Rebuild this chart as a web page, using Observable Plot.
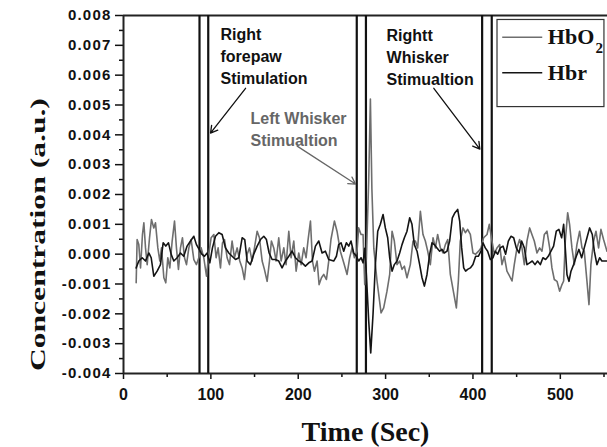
<!DOCTYPE html>
<html><head><meta charset="utf-8">
<script src="https://cdn.jsdelivr.net/npm/d3@7"></script>
<script src="https://cdn.jsdelivr.net/npm/@observablehq/plot@0.6"></script>
<style>html,body{margin:0;padding:0;background:#fff}</style>
</head><body><div id="chart"></div>
<script>
// Values in units of 10^-3 a.u.; time in seconds
const hbo2Time = [14.5,15.6,17.5,19.5,21.7,23.3,25.2,27.1,29.8,32.0,34.7,36.6,39.3,41.6,43.5,46.2,48.4,50.7,53.0,55.7,58.4,60.6,62.9,65.2,67.5,69.8,72.1,74.8,77.4,80.5,83.5,86.2,88.9,91.9,95.0,97.6,100.3,103.4,106.0,108.3,111.0,113.3,115.6,118.6,121.3,124.3,127.0,130.1,133.1,135.8,138.4,141.5,144.2,147.2,149.9,153.0,155.6,158.7,161.3,164.4,167.1,169.3,172.0,174.7,177.7,180.4,183.5,186.1,189.2,191.8,194.9,197.6,200.6,203.3,206.3,209.0,211.3,214.0,216.3,218.5,221.6,223.9,226.6,229.2,232.3,234.9,237.5,241.4,244.4,248.2,252.1,255.9,258.9,261.6,264.3,267.3,269.2,271.9,274.2,276.1,278.0,280.7,282.6,284.3,286.5,290.2,294.8,297.8,301.6,304.7,307.4,310.0,313.1,316.1,318.8,321.5,324.5,328.3,331.4,334.1,336.7,339.8,342.8,345.5,348.2,351.2,354.3,357.0,359.6,362.7,365.7,368.4,371.1,374.1,377.9,381.0,383.3,385.5,388.6,391.3,393.9,397.0,400.0,403.1,406.5,409.2,412.2,416.1,418.7,421.8,424.4,427.5,430.6,433.2,435.9,438.9,442.0,444.7,447.3,450.4,453.4,456.1,458.8,461.8,464.9,467.5,470.2,473.3,476.3,479.0,481.7,484.7,487.8,490.4,493.1,496.2,499.2,501.9,503.8,505.7,508.4,510.6,513.3,516.0,519.0,522.1,524.8,527.4,530.5,532.8,535.0,538.1,540.8,543.8,546.5,549.5,553.4];
const hbo2Value = [-0.96,0.49,0.32,-0.46,0.66,1.05,0.21,-0.35,0.55,1.16,0.88,1.05,0.21,-0.23,0.21,-0.79,-0.96,-0.12,-0.46,0.44,1.11,0.21,-0.51,0.21,0.55,-0.12,-0.35,0.21,0.49,-0.18,-0.35,-0.12,0.21,-0.12,-0.74,0,0.55,0.66,-0.12,0.21,-0.46,0.38,0.49,-0.12,-0.35,0.44,-0.12,0.21,-0.23,-0.46,-0.85,0,0.21,-0.23,0.21,0.77,0.55,-0.23,-0.51,-0.91,-0.23,0.44,0.21,-0.23,0.55,-0.23,0.21,-0.35,0.77,-0.12,0.44,-0.57,0.04,-0.35,0.21,-0.12,0.49,1.11,-0.23,-0.57,-0.23,-1.02,-0.79,-0.68,-0.85,-0.23,0.5,1.11,0.77,0.1,-0.29,-0.68,-0.12,0.21,-0.12,0.1,0.88,0.66,0.66,-1.02,-0.12,2.5,5.2,2.2,0.2,-0.9,-1.97,-1.8,-1.24,-0.68,0.77,0.44,-0.35,-0.23,-0.51,-0.4,-0.79,-0.35,0.44,0.44,0.21,1.44,0.66,0.44,0.1,-0.35,0.55,0.21,0.66,0.21,0.04,0.32,0.49,-0.68,-1.3,-1.8,-0.9,0.44,0.88,0.72,0.83,0.66,0.04,0,0.1,0.21,0.55,0.66,1.0,0.44,0,0.21,0.32,-0.35,-0.07,-0.57,-0.74,-0.9,-0.35,0.21,0.49,0.21,-0.35,0.44,0.88,0.66,0.44,0.04,0.21,0.1,0.66,0.77,0.21,-0.46,-0.85,-0.91,-1.24,-1.02,-0.9,0.44,1.39,1.0,0.21,-0.35,0.32,0.77,0.21,0.1,-0.91,-1.69,-0.35,0.44,0.77,0.21,0.83,0.49,0.1];
const hbrTime = [14.5,17.5,21.4,25.2,29.0,31.7,34.7,38.5,42.3,45.4,48.4,51.5,54.5,57.6,61.4,65.2,69.0,72.8,76.7,80.5,83.5,86.6,89.6,92.7,95.7,98.8,101.8,105.3,109.1,112.9,116.7,120.5,124.3,128.2,132.0,135.8,138.8,141.5,145.3,149.1,153.0,156.8,160.6,163.6,166.7,170.1,173.9,177.7,181.5,185.4,189.2,193.0,196.8,200.6,204.4,208.2,212.1,215.9,219.7,223.5,227.3,231.1,234.9,240.6,243.7,246.3,249.0,252.1,255.1,257.8,260.4,263.5,266.6,269.2,271.9,274.2,276.1,278.0,280.7,283.0,285.6,288.3,291.0,294.0,297.1,299.7,302.4,304.7,307.4,310.0,313.1,316.1,318.8,321.5,324.5,327.6,330.2,332.9,336.0,339.0,341.7,344.4,347.4,350.5,353.1,355.8,358.8,361.9,364.6,367.2,370.3,373.3,376.4,379.4,382.5,384.8,387.1,389.4,391.6,393.9,397.0,400.0,403.1,406.1,409.2,411.5,414.1,416.8,419.9,422.9,425.6,428.3,431.3,434.4,437.4,440.5,443.5,446.6,449.6,452.7,455.7,458.8,461.8,464.9,467.9,471.0,474.0,477.1,480.1,483.2,486.2,489.3,492.3,495.4,498.4,501.5,503.8,505.7,507.6,509.9,512.2,515.2,518.3,521.3,524.4,527.4,530.5,533.5,536.6,538.9,541.9,545.0,547.6,550.3,553.4];
const hbrValue = [-0.46,-0.23,-0.12,-0.23,0.04,-0.12,-0.74,-0.57,-0.35,0.38,0.27,0.38,0,-0.23,-0.12,0.04,-0.07,0.27,0.44,0.6,0.32,0.16,0,-0.07,0.04,-0.29,0.21,0.6,0.72,0.66,0.21,0.04,-0.07,-0.18,-0.12,0.55,0.49,-0.23,-0.35,0,0.27,0.49,0.6,0.49,0.04,-0.18,-0.18,-0.23,-0.46,-0.23,-0.07,0.1,-0.12,-0.23,-0.29,-0.4,-0.29,-0.23,0.27,0.44,0.04,0.1,-0.18,-0.23,-0.07,0.32,0.38,0.1,0.38,0.27,0.44,0.04,-0.07,-0.23,-0.12,-0.29,0.2,-0.68,-2.25,-3.31,-2.02,-0.35,0.77,1.0,1.33,0.88,0.55,-0.12,-0.57,-0.35,-0.23,0.04,0.32,0.55,0.77,1.22,1.0,0.32,0.1,-0.35,-0.79,-1.07,-0.68,0,0.38,0.32,0.21,0.1,0.16,0.04,0.1,0.44,1.22,1.39,1.5,1.11,0.21,-0.46,-0.57,-0.51,-0.46,-0.35,-0.07,-0.07,0.1,0.38,0.21,0.1,-0.18,-0.12,0.1,0,0.21,0.27,0,0.44,0.6,0.55,0.21,0.04,0.44,0.21,-0.35,-0.29,-0.23,-0.35,-0.23,-0.35,-0.12,-0.18,-0.07,0.1,0.27,0.77,0.83,0.55,1.0,0.2,-0.68,-0.91,-0.57,-0.35,-0.07,0.16,-0.12,0.21,0.55,0.88,0.66,0.1,-0.35,-0.12,-0.23,-0.23,-0.23];

const stimTimes = [87, 97, 267, 277.5, 410.5, 421.5];
const yTicks = [-4,-3,-2,-1,0,1,2,3,4,5,6,7,8];
const yMinorTicks = [-3.5,-2.5,-1.5,-0.5,0.5,1.5,2.5,3.5,4.5,5.5,6.5,7.5];
const xTicks = [0,100,200,300,400,500];
const xMinorTicks = [50,150,250,350,450,550];

const seriesNames = ["HbO2", "Hbr"];
const seriesColors = ["#6e6e6e", "#141414"];

const annotations = [
  {t: 111, v: 7.69, text: "Right\nforepaw\nStimulation", color: "#111"},
  {t: 145.4, v: 4.88, text: "Left Whisker\nStimualtion", color: "#666"},
  {t: 301.1, v: 7.68, text: "Rightt\nWhisker\nStimualtion", color: "#111"}
];
const arrows = [
  {t1: 139.7, v1: 5.56, t2: 99.6, v2: 4.06, color: "#111"},
  {t1: 198.8, v1: 3.62, t2: 265.6, v2: 2.35, color: "#666"},
  {t1: 355.2, v1: 5.56, t2: 407.9, v2: 3.52, color: "#111"}
];
// legend placement in data coordinates
const legendBox = {t1: 428.1, t2: 550.5, v1: 4.93, v2: 7.85};
const legendRows = [
  {t1: 433.5, t2: 479.3, tText: 485.7, v: 7.27, name: "HbO", color: seriesColors[0]},
  {t1: 433.5, t2: 479.3, tText: 485.7, v: 6.08, name: "Hbr", color: seriesColors[1]}
];

const hbo2 = hbo2Time.map((t, i) => ({t, v: hbo2Value[i]}));
const hbr = hbrTime.map((t, i) => ({t, v: hbrValue[i]}));

const serif = "'Liberation Serif', 'Times New Roman', serif";
const sans = "'Liberation Sans', Arial, sans-serif";

const chart = Plot.plot({
  width: 607, height: 447,
  marginLeft: 123, marginRight: 0, marginTop: 15, marginBottom: 74,
  x: {domain: [0, 554]},
  y: {domain: [-4, 8]},
  style: {fontFamily: sans, fontWeight: "bold", fontSize: "16px", color: "#111", background: "#fff", overflow: "visible"},
  marks: [
    Plot.axisY({ticks: yMinorTicks, tickSize: 4, tickFormat: () => "", label: null, strokeWidth: 1.5}),
    Plot.axisY({ticks: yTicks, tickSize: 8, tickPadding: 4, tickFormat: d => (d / 1000).toFixed(3), label: null, strokeWidth: 1.5, fontSize: 15}),
    Plot.axisX({ticks: xMinorTicks, tickSize: 4, tickFormat: () => "", label: null, strokeWidth: 1.5}),
    Plot.axisX({ticks: xTicks, tickSize: 6, tickPadding: 9, tickFormat: d3.format("d"), label: null, strokeWidth: 1.5, fontSize: 16}),
    Plot.ruleY([8], {stroke: "#222", strokeWidth: 2}),
    Plot.ruleY([-4], {stroke: "#222", strokeWidth: 2}),
    Plot.ruleX([0], {stroke: "#222", strokeWidth: 2}),
    Plot.ruleX(stimTimes, {stroke: "#111", strokeWidth: 2.2}),
    Plot.line(hbo2, {x: "t", y: "v", stroke: seriesColors[0], strokeWidth: 1.6}),
    Plot.line(hbr, {x: "t", y: "v", stroke: seriesColors[1], strokeWidth: 1.6}),
    Plot.text(annotations, {x: "t", y: "v", text: "text", fill: "color", textAnchor: "start", lineAnchor: "top", lineHeight: 1.375, fontSize: 16, fontWeight: "bold", fontFamily: sans}),
    Plot.arrow(arrows, {x1: "t1", y1: "v1", x2: "t2", y2: "v2", stroke: "color", strokeWidth: 1.3, headLength: 9}),
    Plot.rect([legendBox], {x1: "t1", x2: "t2", y1: "v1", y2: "v2", fill: "none", stroke: "#333", strokeWidth: 1.2}),
    Plot.link(legendRows, {x1: "t1", x2: "t2", y1: "v", y2: "v", stroke: "color", strokeWidth: 1.6}),
    Plot.text(legendRows, {x: "tText", y: "v", text: "name", textAnchor: "start", fontFamily: serif, fontSize: 22, fontWeight: "bold", fill: "#111"}),
    Plot.text(["2"], {x: [540.3], y: [6.91], text: d => d, textAnchor: "start", fontFamily: serif, fontSize: 15, fontWeight: "bold", fill: "#111"}),
    Plot.text(["Concentration (a.u.)"], {frameAnchor: "left", y: [-3.92], text: d => d, rotate: -90, dx: -86, textAnchor: "start", fontFamily: serif, fontSize: 22, fontWeight: "bold", fill: "#111"}),
    Plot.text(["Time (Sec)"], {frameAnchor: "bottom", text: d => d, dy: 67, fontFamily: serif, fontSize: 28, fontWeight: "bold", fill: "#111"})
  ]
});
document.getElementById("chart").appendChild(chart);
const svg = d3.select(chart);
svg.selectAll("text").filter(function() { return this.textContent === "Concentration (a.u.)"; })
  .attr("textLength", 273).attr("lengthAdjust", "spacingAndGlyphs");
svg.selectAll('[aria-label="y-axis tick label"] text').attr("letter-spacing", "1.2px");
</script>
</body></html>
